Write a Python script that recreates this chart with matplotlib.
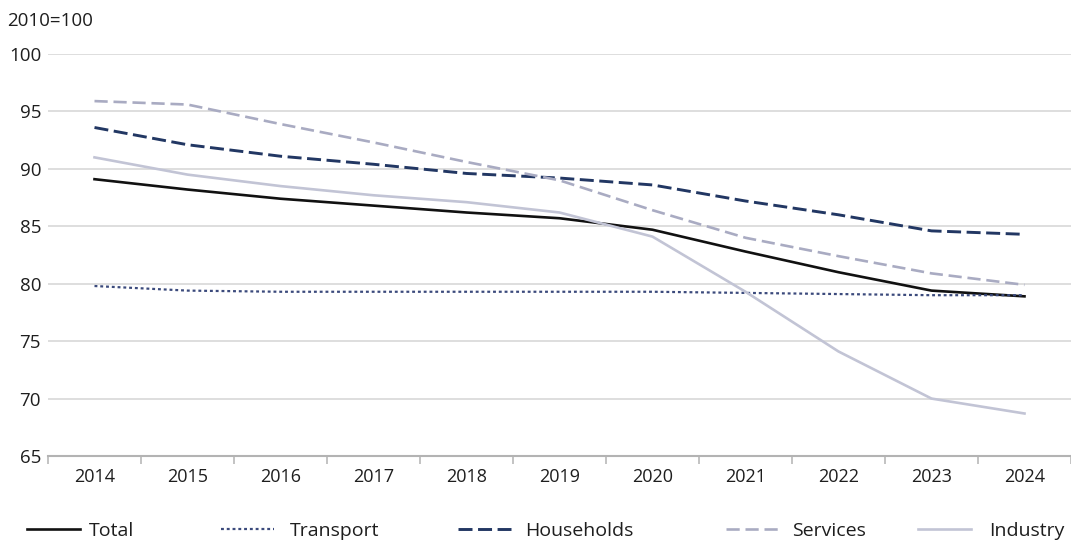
import matplotlib
matplotlib.use('Agg')
import matplotlib.pyplot as plt
from matplotlib.ticker import MultipleLocator

plt.rcParams['font.family'] = ['Open Sans', 'DejaVu Sans']

years = [2014, 2015, 2016, 2017, 2018, 2019, 2020, 2021, 2022, 2023, 2024]
total = [89.1, 88.2, 87.4, 86.8, 86.2, 85.7, 84.7, 82.8, 81.0, 79.4, 78.9]
transport = [79.8, 79.4, 79.3, 79.3, 79.3, 79.3, 79.3, 79.2, 79.1, 79.0, 79.0]
households = [93.6, 92.1, 91.1, 90.4, 89.6, 89.2, 88.6, 87.2, 86.0, 84.6, 84.3]
services = [95.9, 95.6, 93.9, 92.3, 90.6, 89.0, 86.4, 84.0, 82.4, 80.9, 79.9]
industry = [91.0, 89.5, 88.5, 87.7, 87.1, 86.2, 84.1, 79.3, 74.1, 70.0, 68.7]
y_ticks = [65, 70, 75, 80, 85, 90, 95, 100]

fig = plt.figure(figsize=(10.71, 5.43), dpi=100)
ax = fig.add_axes([48 / 1071, 1 - 456 / 543, 1 - 48 / 1071, (456 - 54) / 543])

ax.set_xlim(years[0] - 0.5, years[-1] + 0.5)
ax.set_ylim(65, 100)
ax.set_yticks(y_ticks)
ax.set_xticks(years)
ax.xaxis.set_minor_locator(MultipleLocator(1, offset=0.5))
ax.yaxis.grid(True, color='#d4d4d4', linewidth=1.1)
ax.set_axisbelow(True)
for s in ['top', 'right', 'left']:
    ax.spines[s].set_visible(False)
ax.spines['bottom'].set_color('#b3b3b3')
ax.spines['bottom'].set_linewidth(1.5)
ax.tick_params(axis='y', length=0, pad=5, labelsize=13.5, colors='#1e1e1e')
ax.tick_params(axis='x', which='major', length=0, pad=9, labelsize=13, colors='#1e1e1e')
ax.tick_params(axis='x', which='minor', length=6, width=1.1, color='#b3b3b3')

series = [
    ('Total', total, dict(color='#111111', linewidth=1.9, linestyle='-')),
    ('Transport', transport, dict(color='#3b4a7c', linewidth=1.6, dashes=(1.3, 1.3))),
    ('Households', households, dict(color='#223763', linewidth=2.1, dashes=(4.8, 1.9))),
    ('Services', services, dict(color='#a9abc2', linewidth=1.9, dashes=(5.0, 2.2))),
    ('Industry', industry, dict(color='#c2c4d5', linewidth=1.9, linestyle='-')),
]

lines = []
for name, vals, style in series:
    ln, = ax.plot(years, vals, label=name, **style)
    lines.append(ln)

fig.text(7 / 1071, 1 - 21 / 543, '2010=100', fontsize=13.5, color='#1e1e1e', va='center', ha='left')

# legend entries spread along the bottom, one small legend per series
legend_x = [27, 221, 458, 726, 918]
legend_pad = [0.5, 0.85, 0.75, 0.7, 0.95]
for ln, x0, pad in zip(lines, legend_x, legend_pad):
    fig.legend(handles=[ln], loc='center left', bbox_to_anchor=(x0 / 1071, 1 - 531 / 543),
               frameon=False, fontsize=14, handlelength=2.7, handletextpad=pad,
               borderpad=0, borderaxespad=0, labelcolor='#1e1e1e')

fig.savefig('out.png', dpi=100)
